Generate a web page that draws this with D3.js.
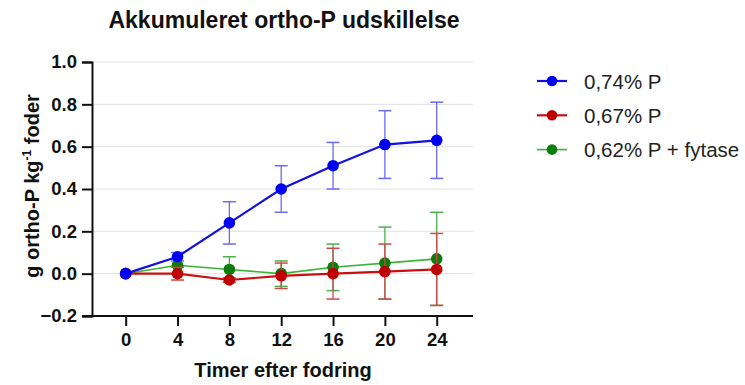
<!DOCTYPE html>
<html>
<head>
<meta charset="utf-8">
<script src="https://cdn.jsdelivr.net/npm/d3@7"></script>
<style>
  body { margin: 0; background: #fff; }
  svg { font-family: "Liberation Sans", Arial, sans-serif; }
</style>
</head>
<body>
<div id="chart"></div>
<script>
var width = 745, height = 385;

// data
var hours = [0, 4, 8, 12, 16, 20, 24];
var seriesNames = ["0,74% P", "0,67% P", "0,62% P + fytase"];
var blueMean = [0, 0.08, 0.24, 0.40, 0.51, 0.61, 0.63];
var blueSd   = [0, 0.02, 0.10, 0.11, 0.11, 0.16, 0.18];
var redMean  = [0, 0.00, -0.03, -0.01, 0.00, 0.01, 0.02];
var redSd    = [0, 0.03, 0.01, 0.06, 0.12, 0.13, 0.17];
var greenMean = [0, 0.04, 0.02, 0.00, 0.03, 0.05, 0.07];
var greenSd   = [0, 0.00, 0.06, 0.06, 0.11, 0.17, 0.22];
var yTicks = [-0.2, 0, 0.2, 0.4, 0.6, 0.8, 1.0];

var series = [
  { name: seriesNames[2], mean: greenMean, sd: greenSd, dot: "#0a7d0a", line: "#3cb43c", err: "#4caf4c", lw: 1.6 },
  { name: seriesNames[1], mean: redMean, sd: redSd, dot: "#c00000", line: "#c81010", err: "#d04848", lw: 2.2 },
  { name: seriesNames[0], mean: blueMean, sd: blueSd, dot: "#0000f0", line: "#1010e0", err: "#6a6af0", lw: 2.2 }
];

var svg = d3.select("#chart").append("svg").attr("width", width).attr("height", height);

var x = d3.scaleLinear().domain([-2.6, 26.8]).range([92, 473]);
var y = d3.scaleLinear().domain([-0.2, 1.0]).range([316, 62]);

// gridlines
svg.append("g")
  .selectAll("line")
  .data(yTicks.filter(function (d) { return d > -0.2; }))
  .enter().append("line")
  .attr("x1", x.range()[0]).attr("x2", x.range()[1])
  .attr("y1", y).attr("y2", y)
  .attr("stroke", "#e2e2e2").attr("stroke-width", 1);

// y axis
var yAxis = svg.append("g")
  .attr("transform", "translate(" + x.range()[0] + ",0)")
  .call(d3.axisLeft(y).tickValues(yTicks).tickFormat(d3.format(".1f")).tickSize(10).tickPadding(5));
yAxis.select(".domain").attr("stroke", "#111").attr("stroke-width", 2);
yAxis.selectAll(".tick line").attr("stroke", "#111").attr("stroke-width", 2);
yAxis.selectAll("text").attr("font-size", 18.5).attr("font-weight", "bold").attr("fill", "#111");

// x axis
var xAxis = svg.append("g")
  .attr("transform", "translate(0," + y(-0.2) + ")")
  .call(d3.axisBottom(x).tickValues(hours).tickSizeInner(10).tickSizeOuter(0).tickPadding(7));
xAxis.select(".domain").attr("stroke", "#111").attr("stroke-width", 2).attr("d", "M" + (x.range()[0] - 10) + ",0H" + x.range()[1]);
xAxis.selectAll(".tick line").attr("stroke", "#111").attr("stroke-width", 2);
xAxis.selectAll("text").attr("font-size", 18.5).attr("font-weight", "bold").attr("fill", "#111");

// titles
svg.append("text")
  .attr("x", 284).attr("y", 28)
  .attr("text-anchor", "middle")
  .attr("font-size", 23).attr("font-weight", "bold").attr("fill", "#111")
  .text("Akkumuleret ortho-P udskillelse");

svg.append("text")
  .attr("x", 283).attr("y", 377)
  .attr("text-anchor", "middle")
  .attr("font-size", 20).attr("font-weight", "bold").attr("fill", "#111")
  .text("Timer efter fodring");

var yt = svg.append("text")
  .attr("transform", "translate(39,186) rotate(-90)")
  .attr("text-anchor", "middle")
  .attr("font-size", 20).attr("font-weight", "bold").attr("fill", "#111");
yt.append("tspan").text("g ortho-P kg");
yt.append("tspan").attr("font-size", 12).attr("dy", -8).text("-1");
yt.append("tspan").attr("dy", 8).text(" foder");

var lineGen = d3.line()
  .x(function (d) { return x(d.h); })
  .y(function (d) { return y(d.m); });

series.forEach(function (s) {
  var pts = hours.map(function (h, i) { return { h: h, m: s.mean[i], sd: s.sd[i] }; });
  var g = svg.append("g");
  var eb = g.selectAll(".err").data(pts.filter(function (d) { return d.sd > 0; })).enter().append("g");
  eb.append("line")
    .attr("x1", function (d) { return x(d.h); }).attr("x2", function (d) { return x(d.h); })
    .attr("y1", function (d) { return y(d.m - d.sd); }).attr("y2", function (d) { return y(d.m + d.sd); })
    .attr("stroke", s.err).attr("stroke-width", 1.3);
  [-1, 1].forEach(function (k) {
    eb.append("line")
      .attr("x1", function (d) { return x(d.h) - 6.5; }).attr("x2", function (d) { return x(d.h) + 6.5; })
      .attr("y1", function (d) { return y(d.m + k * d.sd); }).attr("y2", function (d) { return y(d.m + k * d.sd); })
      .attr("stroke", s.err).attr("stroke-width", 1.5);
  });
  g.append("path").attr("d", lineGen(pts)).attr("fill", "none").attr("stroke", s.line).attr("stroke-width", s.lw);
  g.selectAll("circle").data(pts).enter().append("circle")
    .attr("cx", function (d) { return x(d.h); }).attr("cy", function (d) { return y(d.m); })
    .attr("r", 5.8).attr("fill", s.dot);
});

// legend
var legend = svg.append("g");
var legendItems = series.slice().reverse();
legendItems.forEach(function (s, i) {
  var ly = 81 + i * 34.3;
  legend.append("line").attr("x1", 537).attr("x2", 567).attr("y1", ly).attr("y2", ly)
    .attr("stroke", s.line).attr("stroke-width", s.lw);
  legend.append("circle").attr("cx", 552).attr("cy", ly).attr("r", 5.3).attr("fill", s.dot);
  legend.append("text").attr("x", 584).attr("y", ly + 7.5)
    .attr("font-size", 20.5).attr("fill", "#222").text(s.name);
});
</script>
</body>
</html>
